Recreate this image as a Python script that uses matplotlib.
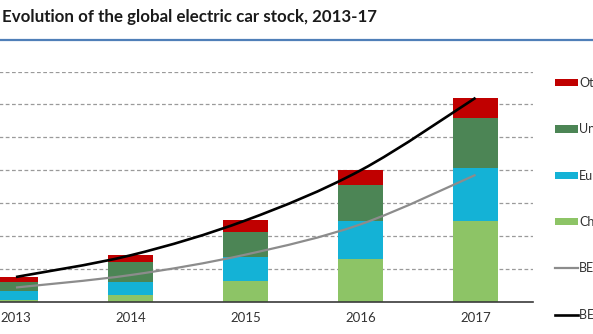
import matplotlib
matplotlib.use("Agg")
import matplotlib.pyplot as plt
import numpy as np
from matplotlib.path import Path
from matplotlib.patches import PathPatch, Patch
from matplotlib.lines import Line2D

# Electric car stock by region, millions of vehicles
years = ["2013", "2014", "2015", "2016", "2017"]
china = [0.03, 0.11, 0.32, 0.65, 1.23]
europe = [0.14, 0.19, 0.36, 0.58, 0.81]
united_states = [0.13, 0.30, 0.39, 0.54, 0.76]
others = [0.08, 0.11, 0.17, 0.23, 0.30]
bev = [0.22, 0.41, 0.72, 1.18, 1.93]
bev_phev = [0.38, 0.71, 1.24, 2.00, 3.10]

COLOR_CHINA = "#8DC466"
COLOR_EUROPE = "#14B2D6"
COLOR_US = "#4C8555"
COLOR_OTHERS = "#C00000"
COLOR_BEV = "#8C8C8C"
COLOR_TOTAL = "#000000"
FONT = "Lato"


def smooth_path(xs, ys):
    """Bezier path through the points, same tension as office 'smoothed line'."""
    pts = np.column_stack([xs, ys]).astype(float)
    padded = np.vstack([pts[0], pts, pts[-1]])
    verts = [pts[0]]
    codes = [Path.MOVETO]
    for i in range(len(pts) - 1):
        p0, p1, p2, p3 = padded[i], padded[i + 1], padded[i + 2], padded[i + 3]
        c1 = p1 + (p2 - p0) / 6.0
        c2 = p2 - (p3 - p1) / 6.0
        verts += [c1, c2, p2]
        codes += [Path.CURVE4] * 3
    return Path(verts, codes)


fig = plt.figure(figsize=(5.93, 3.34), dpi=100)
W, H = 593, 334

# Plot area runs a little past the left edge of the figure
left_px, right_px, top_px, base_px = -41.5, 533, 71.5, 302
ax = fig.add_axes([left_px / W, 1 - base_px / H, (right_px - left_px) / W, (base_px - top_px) / H])

x = np.arange(len(years))
bar_w = 0.39
bottom = np.zeros(len(years))
for vals, color in [(china, COLOR_CHINA), (europe, COLOR_EUROPE),
                    (united_states, COLOR_US), (others, COLOR_OTHERS)]:
    ax.bar(x, vals, bar_w, bottom=bottom, color=color, zorder=2, linewidth=0)
    bottom += np.array(vals)

ax.add_patch(PathPatch(smooth_path(x, bev), fill=False, edgecolor=COLOR_BEV, lw=1.6, zorder=3))
ax.add_patch(PathPatch(smooth_path(x, bev_phev), fill=False, edgecolor=COLOR_TOTAL, lw=1.9, zorder=4))

ax.set_xlim(-0.5, len(years) - 0.5)
ax.set_ylim(0, 3.5)
ax.set_yticks(np.arange(0.5, 3.51, 0.5))
ax.yaxis.grid(True, color="#9A9A9A", linestyle=(0, (3, 2)), linewidth=0.9, zorder=0)
ax.set_axisbelow(True)
ax.tick_params(axis="y", left=False, labelleft=False)
ax.set_xticks(x)
ax.set_xticklabels(years, fontsize=9.5, color="#333333", family=FONT)
ax.tick_params(axis="x", length=0, pad=7)
for side in ["top", "left", "right"]:
    ax.spines[side].set_visible(False)
ax.spines["bottom"].set_color("#3A3A3A")
ax.spines["bottom"].set_linewidth(1.2)
ax.spines["bottom"].set_zorder(5)

# Title and rule underneath
fig.text(2 / W, 1 - 17 / H, "Evolution of the global electric car stock, 2013-17",
         fontsize=12.2, fontweight="bold", family=FONT, color="#1A1A1A", va="center", ha="left")
fig.add_artist(Line2D([0, 1], [1 - 39.5 / H] * 2, color="#4F7FB8", lw=1.6, transform=fig.transFigure))

handles = [
    Patch(facecolor=COLOR_OTHERS),
    Patch(facecolor=COLOR_US),
    Patch(facecolor=COLOR_EUROPE),
    Patch(facecolor=COLOR_CHINA),
    Line2D([], [], color=COLOR_BEV, lw=1.6),
    Line2D([], [], color=COLOR_TOTAL, lw=1.9),
]
labels = ["Others", "United States", "Europe", "China", "BEV", "BEV + PHEV"]
fig.legend(handles, labels, loc="upper left", bbox_to_anchor=(555 / W, 1 - 77 / H),
           frameon=False, borderpad=0, borderaxespad=0, handlelength=1.85,
           handleheight=0.55, handletextpad=0.1, labelspacing=2.75,
           prop={"family": FONT, "size": 9}, labelcolor="#333333")

fig.savefig("out.png", dpi=100)
